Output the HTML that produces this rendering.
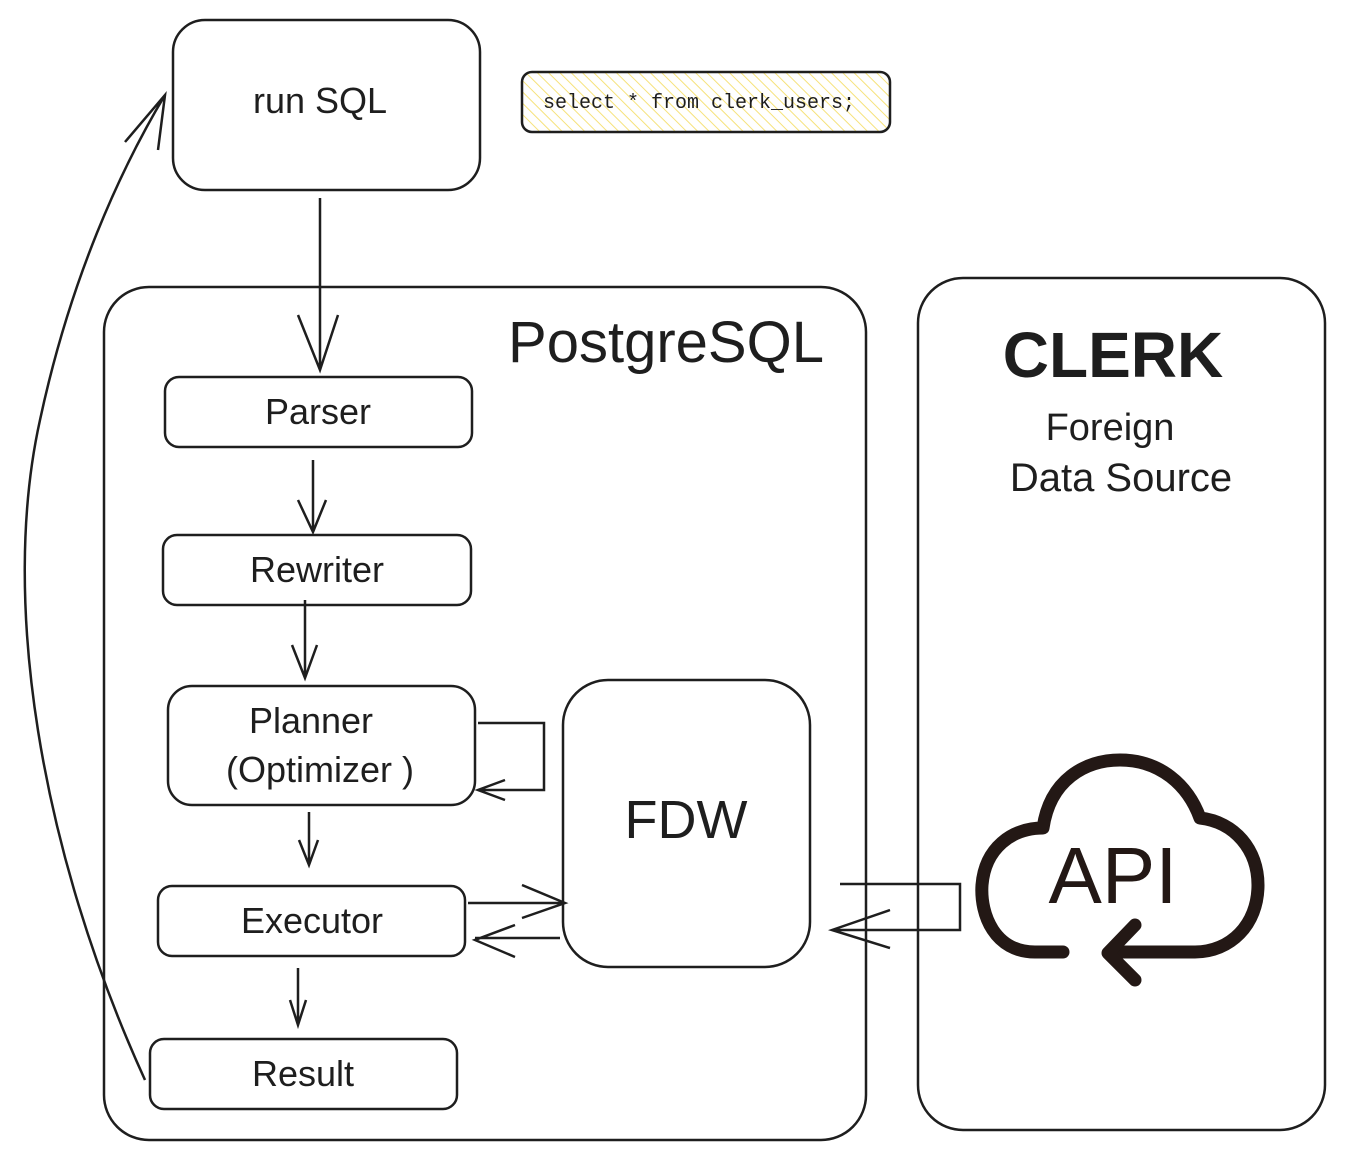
<!DOCTYPE html>
<html><head><meta charset="utf-8"><style>
html,body{margin:0;padding:0;background:#fff;}
svg{display:block}
text{font-family:"Liberation Sans",sans-serif;fill:#1e1e1e}
</style></head><body>
<svg width="1345" height="1158" viewBox="0 0 1345 1158" xmlns="http://www.w3.org/2000/svg">
<defs>
<pattern id="h" width="8" height="8" patternUnits="userSpaceOnUse" patternTransform="rotate(-45)">
<rect width="8" height="8" fill="#fff"/><line x1="0" y1="0" x2="0" y2="8" stroke="#f6e27a" stroke-width="2"/>
</pattern>
</defs>
<g fill="none" stroke="#1e1e1e" stroke-width="2.5">
<rect x="173" y="20" width="307" height="170" rx="32"/>
<rect x="522" y="72" width="368" height="60" rx="10" fill="url(#h)"/>
<rect x="104" y="287" width="762" height="853" rx="45"/>
<rect x="918" y="278" width="407" height="852" rx="45"/>
<rect x="165" y="377" width="307" height="70" rx="14"/>
<rect x="163" y="535" width="308" height="70" rx="14"/>
<rect x="168" y="686" width="307" height="119" rx="24"/>
<rect x="158" y="886" width="307" height="70" rx="14"/>
<rect x="150" y="1039" width="307" height="70" rx="14"/>
<rect x="563" y="680" width="247" height="287" rx="45"/>
<path d="M320 198 V370 M298 315 L320 370 L338 315"/>
<path d="M313 460 V532 M298 500 L313 532 L326 500"/>
<path d="M305 600 V678 M292 645 L305 678 L317 645"/>
<path d="M309 812 V865 M299 840 L309 865 L318 840"/>
<path d="M298 968 V1025 M290 1000 L298 1025 L306 1000"/>
<path d="M478 723 H544 V790 H478 M505 780 L478 790 L505 800"/>
<path d="M468 903 H565 M522 885 L565 903 L522 918"/>
<path d="M560 938 H475 M515 925 L475 940 L515 957"/>
<path d="M840 884 H960 V930 H832 M890 910 L832 930 L890 948"/>
<path d="M145 1080 C40 850 0 600 40 420 C70 280 120 170 165 95 M125 142 L165 95 L158 150"/>
</g>
<g fill="none" stroke="#231815" stroke-width="13" stroke-linecap="round" stroke-linejoin="round">
<path d="M1063 952 H1035 C995 952 980 915 982 885 C985 848 1012 828 1043 828 C1050 780 1085 760 1120 760 C1160 760 1188 785 1200 818 C1235 822 1258 850 1258 885 C1258 925 1230 952 1195 952 H1112"/>
<path d="M1135 925 L1108 953 L1135 980"/>
</g>
<text x="1113" y="903" text-anchor="middle" font-size="80" style="fill:#231815">API</text>
<text x="320" y="113" text-anchor="middle" font-size="36">run SQL</text>
<text x="543" y="108" font-size="20" style="font-family:'Liberation Mono',monospace">select * from clerk_users;</text>
<text x="666" y="362" text-anchor="middle" font-size="58">PostgreSQL</text>
<text x="1113" y="377" text-anchor="middle" font-size="64" font-weight="bold">CLERK</text>
<text x="1110" y="440" text-anchor="middle" font-size="38">Foreign</text>
<text x="1121" y="491" text-anchor="middle" font-size="40">Data Source</text>
<text x="318" y="424" text-anchor="middle" font-size="36">Parser</text>
<text x="317" y="582" text-anchor="middle" font-size="36">Rewriter</text>
<text x="311" y="733" text-anchor="middle" font-size="36">Planner</text>
<text x="320" y="782" text-anchor="middle" font-size="36">(Optimizer )</text>
<text x="312" y="933" text-anchor="middle" font-size="36">Executor</text>
<text x="303" y="1086" text-anchor="middle" font-size="36">Result</text>
<text x="686" y="838" text-anchor="middle" font-size="54">FDW</text>
</svg>
</body></html>
